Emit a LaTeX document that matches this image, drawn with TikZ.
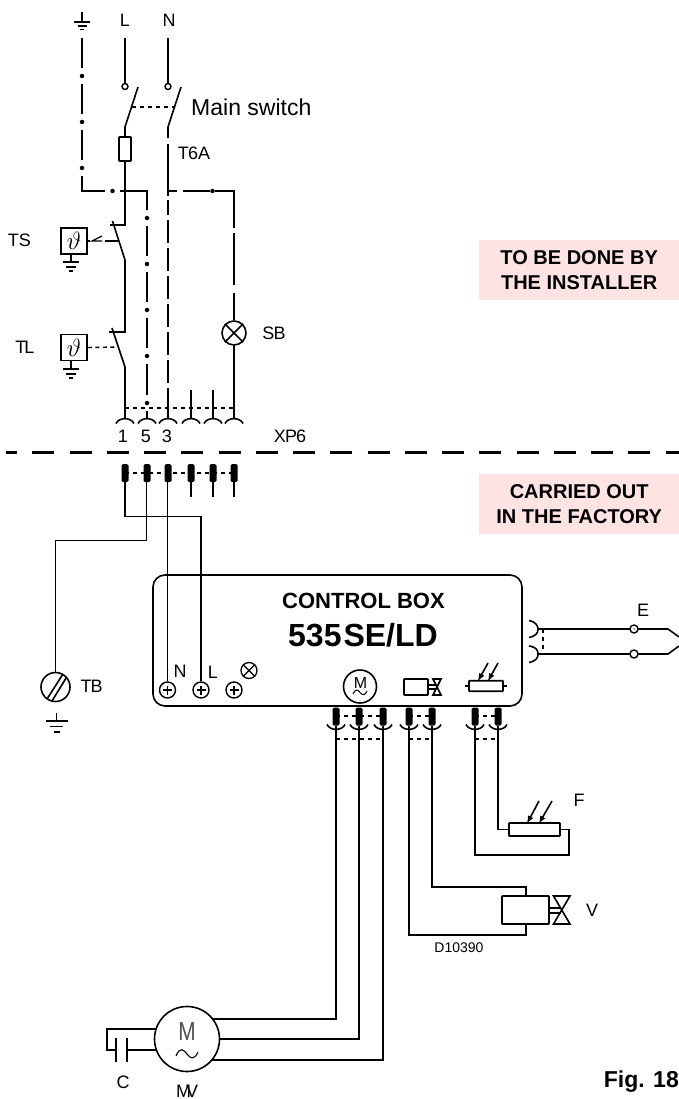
\documentclass[tikz,border=0pt]{standalone}
\usepackage{fontspec}
\setmainfont{Liberation Sans}
\definecolor{pinkbg}{HTML}{FEE3E3}
\newcommand{\fs}[1]{\fontsize{#1}{#1}\selectfont}
\tikzset{
  wire/.style={line width=1.6pt,line cap=butt},
  dashw/.style={line width=1.4pt,dash pattern=on 4pt off 4pt},
  longdash/.style={line width=1.6pt,dash pattern=on 23pt off 5pt},
  dotn/.style={circle,fill=black,inner sep=0pt,minimum size=4.5pt},
  ring/.style={circle,draw,fill=white,line width=1.4pt,inner sep=0pt,minimum size=6pt},
  pinb/.style={rectangle,rounded corners=1.5pt,fill=black,inner sep=0pt,minimum width=7pt,minimum height=18pt},
  lab/.style={inner sep=0pt,font=\fs{18}},
  pinkbox/.style={fill=pinkbg,inner sep=0pt,minimum width=200pt,minimum height=60pt,align=center,font=\bfseries\fs{20}},
  sqbox/.style={draw,line width=1.6pt,inner sep=0pt,minimum size=26pt},
  scr/.style={circle,draw,line width=1.4pt,inner sep=0pt,minimum size=16pt},
  lamp/.style={circle,draw,line width=1.6pt,inner sep=0pt},
  rbox/.style={draw,line width=1.6pt,rounded corners=0.5pt,inner sep=0pt}
}
\begin{document}
\begin{tikzpicture}[x=1pt,y=-1pt,line join=miter]
\useasboundingbox (0,0) rectangle (679,1099);
% pink notes
\node[pinkbox,anchor=north west] (n1) at (479,240) {TO BE DONE BY\\[5pt]THE INSTALLER};
\node[pinkbox,anchor=north west] (n2) at (479,474) {CARRIED OUT\\[5pt]IN THE FACTORY};
% top labels
\node[lab] (lL) at (125,20) {L};
\node[lab] (lN) at (169,20) {N};
\node[inner sep=0pt,anchor=west,font=\fs{23}] (lMS) at (191,107) {Main switch};
\node[lab] (lT) at (194,153) {T\kern-1pt 6A};
\node[lab] (lTS) at (19.5,240) {TS};
\node[lab] (lTL) at (25,347) {T\kern-2pt L};
\node[lab] (lSB) at (274,333) {S\kern-1pt B};
\node[lab] (l1) at (123,436) {1};
\node[lab] (l5) at (146,436) {5};
\node[lab] (l3) at (167,436) {3};
\node[lab] (lXP) at (290,436) {X\kern-1pt P\kern-1pt 6};
% top earth
\coordinate (e0) at (82,12); \coordinate (e1) at (82,22);
\draw[wire] (e0)--(e1) (74,22)--(90,22) (77.5,26)--(86.5,26) (80,29.5)--(84,29.5);
% earth dash-dot line
\coordinate (g0) at (82,38); \coordinate (g1) at (82,191); \coordinate (g2) at (147,191);
\coordinate (g3) at (147,418);
\node[dotn] (gd1) at (82,76) {}; \node[dotn] (gd2) at (82,122) {}; \node[dotn] (gd3) at (82,168) {};
\node[dotn] (gd4) at (112.5,191) {};
\node[dotn] (gd5) at (147,218) {}; \node[dotn] (gd6) at (147,264) {}; \node[dotn] (gd7) at (147,310) {};
\node[dotn] (gd8) at (147,356) {}; \node[dotn] (gd9) at (147,403) {};
\draw[wire] (g0)--(82,68) (82,84)--(82,114) (82,130)--(82,160);
\draw[wire] (82,176)--(g1)--(105,191) (120,191)--(g2)--(147,210);
\draw[wire] (147,226)--(147,256) (147,272)--(147,302) (147,318)--(147,348) (147,364)--(147,395) (147,411)--(g3);
% L line
\node[ring] (rL) at (125,86.5) {};
\node[ring] (rN) at (168,86.5) {};
\coordinate (lt) at (125,38); \coordinate (nt) at (168,38);
\draw[wire] (lt)--(rL) (nt)--(rN);
\coordinate (bL) at (125,127); \coordinate (bN) at (168,127);
\draw[wire] (bL)--(138,87) (bN)--(181,87);
\draw[dashw] (132,107)--(175,107);
\node[rbox,minimum width=12pt,minimum height=24pt] (fuse) at (125,149) {};
\coordinate (ts1) at (125,225);
\draw[wire] (bL)--(fuse.north) (fuse.south)--(ts1)--(110,225);
\draw[wire] (112.5,221)--(125,260)--(125,332)--(109,332) (112,328)--(125,367)--(125,419);
% N line
\draw[wire] (bN)--(168,138) (168,144)--(168,196) (168,200)--(168,215);
\draw[longdash] (168,220)--(168,395);
\draw[wire] (168,395)--(168,419);
\coordinate (s1) at (234,191);
\node[dotn] (sd) at (212.5,191) {};
\draw[wire] (168,191)--(177,191) (183,191)--(sd)--(s1)--(234,228);
\draw[wire] (234,233)--(234,285) (234,293)--(234,310);
\node[lamp,minimum size=24pt] (SB) at (234,333) {};
\draw[wire] (SB.45)--(SB.225) (SB.135)--(SB.-45);
\draw[wire] (234,310)--(SB.north) (SB.south)--(234,419);
% TS, TL sensors
\node[sqbox] (TS) at (74,241) {\fs{25}$\vartheta$};
\node[sqbox] (TL) at (74,347.5) {\fs{25}$\vartheta$};
\draw[wire] (71,254)--(71,262) (63,262)--(79,262) (66,267)--(76,267) (69,271)--(73,271);
\draw[wire] (71,360.5)--(71,369) (63,369)--(79,369) (66,374)--(76,374) (69,378)--(73,378);
\draw[line width=1.4pt] (87,241)--(90,241) (105,241)--(118,241);
\draw[line width=1.2pt] (102,241)--(92,241)--(102,236);
\draw[line width=1.4pt,dash pattern=on 4pt off 3.5pt] (TL.east)--(118,347);
% XP6 socket
\draw[dashw] (125,408)--(234,408);
\foreach \x in {125,147,168,191,213,234}{
  \draw[wire] ({\x-9},423.5) .. controls ({\x-6},417) and ({\x+6},417) .. ({\x+9},423.5);
}
\draw[wire] (191,390)--(191,419) (213,390)--(213,419);
% separator
\draw[line width=3.2pt,dash pattern=on 22pt off 15.25pt,dash phase=11pt] (6,452.5)--(679,452.5);
% plug pins
\draw[dashw] (125,473)--(234,473);
\foreach \x/\n in {125/a,147/b,168/c,191/d,213/e,234/f}{
  \node[pinb] (t\n) at (\x,473) {};
}
\draw[wire] (td.south)--(191,497) (te.south)--(213,497) (tf.south)--(234,497);
% control box
\node[draw,line width=1.6pt,rounded corners=12pt,minimum width=369pt,minimum height=131pt,inner sep=0pt] (box) at (337.5,640.5) {};
\node[inner sep=0pt,font=\bfseries\fs{22}] (bt1) at (363.5,601) {CONTROL BOX};
\node[inner sep=0pt,font=\bfseries\fs{32}] (bt2) at (363,635) {535\kern2pt SE/LD};
% terminals
\foreach \x/\n in {167.5/sN,201/sL,234/sX}{
  \node[scr] (\n) at (\x,690) {};
  \draw[line width=1.1pt] (\x-4.5,690)--(\x+4.5,690) (\x,685.5)--(\x,694.5);
}
\node[lab] (lbN) at (180,671) {N};
\node[lab] (lbL) at (213,672) {L};
\node[lamp,line width=1.3pt,minimum size=16pt] (bl) at (249,670.5) {};
\draw[line width=1.1pt] (bl.45)--(bl.225) (bl.135)--(bl.-45);
% wiring from plug
\coordinate (wa) at (125,516.5); \coordinate (wb) at (201,516.5);
\coordinate (wc) at (146.5,540.5); \coordinate (wd) at (55.5,540.5);
\draw[wire] (ta.south)--(wa)--(wb)--(sL.north);
\draw[wire] (146.5,482)--(wc)--(wd)--(55.5,672.5);
\draw[wire] (167.5,482)--(sN.north);
% TB
\node[lamp,minimum size=29pt] (TB) at (55.5,687) {};
\draw[wire] (47,699)--(63,674) (52,701)--(66.7,677);
\node[lab] (lTB) at (91.5,686) {T\kern-1pt B};
\draw[wire] (56.5,713)--(56.5,721) (46,721)--(68,721) (50,726.5)--(63,726.5) (53.5,732)--(60,732);
% in-box symbols
\node[lamp,minimum size=33pt] (Mb) at (360,686.5) {};
\node[inner sep=0pt,font=\fs{16}] (Mbt) at (360.5,682.5) {M};
\draw[line width=1pt] (353,694) .. controls (356,688) and (358,690) .. (360,692.5) .. controls (362,695) and (365,696) .. (367,691);
\node[rbox,minimum width=24pt,minimum height=16pt] (bv) at (416,687) {};
\draw[wire] (428,685)--(436,685) (428,689)--(436,689);
\draw[wire] (433,679)--(441,679)--(433,695)--(441,695)--cycle;
\node[rbox,minimum width=34pt,minimum height=10.5pt] (bf) at (486,686) {};
\draw[wire] (465,686)--(bf.west) (bf.east)--(507,686);
\draw[wire,-latex] (488,663)--(478,681);
\draw[wire,-latex] (498,663)--(488,681);
% bottom pins
\foreach \x in {336,359,383,409,432,475,498}{
  \draw[wire] ({\x-9},724.5) .. controls ({\x-6},731) and ({\x+6},731) .. ({\x+9},724.5);
}
\draw[dashw] (336,716)--(383,716) (409,716)--(432,716) (475,716)--(498,716);
\draw[dashw] (336,739)--(383,739) (409,739)--(432,739) (475,739)--(498,739);
\foreach \x/\n in {336/m,359/n,383/o,409/p,432/q,475/r,498/s}{
  \node[pinb] (b\n) at (\x,716.5) {};
}
% motor
\node[lamp,minimum size=65pt] (mot) at (187,1039) {};
\node[inner sep=0pt,font=\fs{26},xscale=.8,text=black!70] (mott) at (187,1031.5) {M};
\draw[line width=1.1pt] (176,1056) .. controls (180,1046) and (184,1050) .. (187,1054) .. controls (190,1058) and (194,1061) .. (198,1052);
\coordinate (mo1) at (336,1019); \coordinate (mo2) at (359,1039); \coordinate (mo3) at (383,1060);
\draw[wire] (bm.south)--(mo1)--(212,1019);
\draw[wire] (bn.south)--(mo2)--(mot.east);
\draw[wire] (bo.south)--(mo3)--(212,1060);
% capacitor
\coordinate (c1) at (107,1029); \coordinate (c2) at (107,1050);
\draw[wire] (155.5,1029)--(c1)--(c2)--(116,1050) (127,1050)--(156,1050);
\draw[line width=1.7pt] (116,1038)--(116,1062) (127,1038)--(127,1062);
\node[lab] (lC) at (123,1082) {C};
\node[lab] (lM) at (187,1091) {M\kern-5pt V};
% F sensor
\node[rbox,minimum width=51pt,minimum height=13pt] (F) at (534.5,829.5) {};
\coordinate (f1) at (475,855); \coordinate (f2) at (569,855); \coordinate (f3) at (569,829.5);
\draw[wire] (br.south)--(f1)--(f2)--(f3)--(F.east);
\draw[wire] (bs.south)--(498,829.5)--(F.west);
\draw[wire,-latex] (539,801)--(527,823.5);
\draw[wire,-latex] (552,801)--(539,823.5);
\node[lab] (lF) at (579,800) {F};
% valve
\node[rbox,minimum width=47pt,minimum height=28pt] (V) at (525.5,910) {};
\coordinate (v1) at (432,887); \coordinate (v2) at (526,887);
\coordinate (v3) at (409,935); \coordinate (v4) at (526,935);
\draw[wire] (bq.south)--(v1)--(v2)--(526,896);
\draw[wire] (bp.south)--(v3)--(v4)--(526,924);
\draw[wire] (549,908)--(561,908) (549,913)--(561,913);
\draw[wire] (553.5,896)--(570,896)--(553.5,924)--(570,924)--cycle;
\node[lab] (lV) at (592,910) {V};
\node[inner sep=0pt,font=\fs{14}] (lD) at (459,948) {D10390};
% E thermocouple
\coordinate (ea) at (538,629); \coordinate (eb) at (538,654);
\draw[wire] (529,620.5) .. controls (536,622) and (538,626) .. (ea) .. controls (538,633) and (536,636) .. (529,637.5);
\draw[wire] (529,646) .. controls (536,647) and (538,650) .. (eb) .. controls (538,658) and (536,661) .. (529,662.5);
\coordinate (ec) at (668,629); \coordinate (ed) at (668,654);
\draw[wire] (ea)--(ec)--(679,637);
\draw[wire] (eb)--(ed)--(679,646);
\draw[dashw] (543,629)--(543,654);
\node[ring,minimum size=8pt] (E1) at (634,629) {};
\node[ring,minimum size=8pt] (E2) at (634,654) {};
\node[circle,fill=black,inner sep=0pt,minimum size=1.5pt] (E1d) at (634,629) {};
\node[lab] (lE) at (643,610) {E};
% Fig
\node[inner sep=0pt,anchor=east,font=\bfseries\fs{23}] (fig) at (679,1082) {Fig. 18};
\end{tikzpicture}
\end{document}
